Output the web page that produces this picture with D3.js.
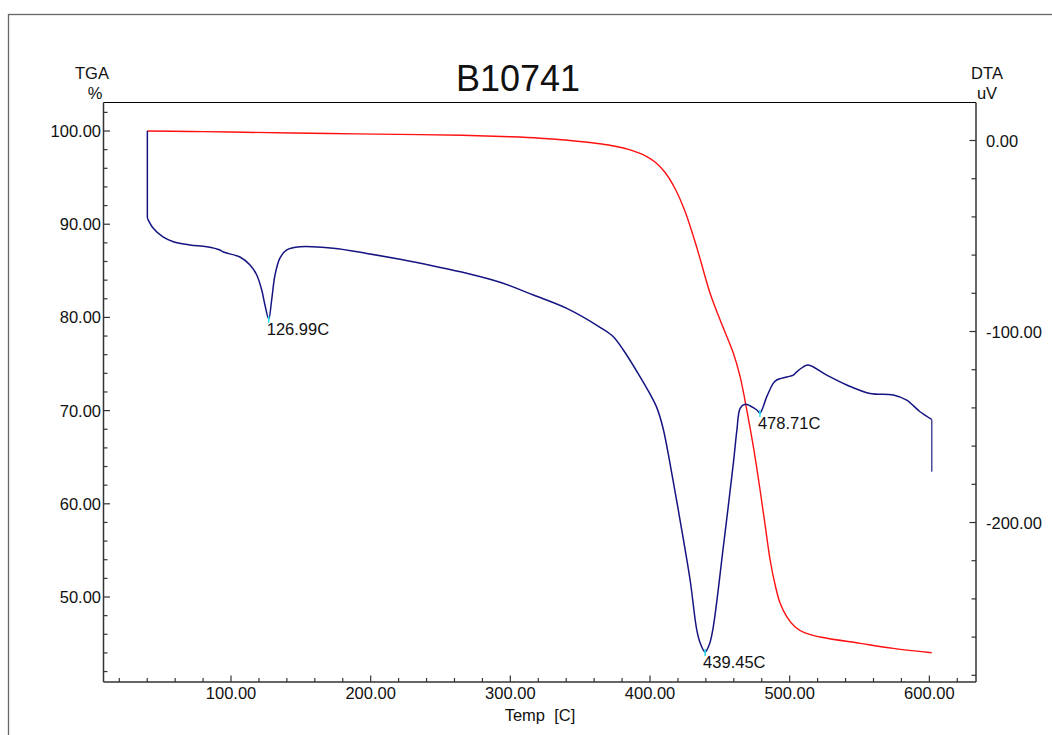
<!DOCTYPE html>
<html>
<head>
<meta charset="utf-8">
<script src="https://cdn.jsdelivr.net/npm/d3@7"></script>
<style>
  html, body { margin: 0; padding: 0; background: #fff; }
  svg { display: block; font-family: "Liberation Sans", Arial, sans-serif; }
</style>
</head>
<body>
<svg id="chart" width="1052" height="735"></svg>
<script>
// ---------- data ----------
const title = "B10741";
const xLabel = "Temp  [C]";
const leftLabel = ["TGA", "%"];
const rightLabel = ["DTA", "uV"];

const xTicks = [100, 200, 300, 400, 500, 600];
const tgaTicks = [50, 60, 70, 80, 90, 100];
const dtaTicks = [-200, -100, 0];

// TGA curve (red, left axis)
const tgaTemp = [39.9, 70.6, 100, 170.9, 235.3, 271.1, 300.5, 321.3, 339.2, 353.5, 364.2, 375.0, 385.7, 396.4, 403.6, 410.8, 417.9, 425.1, 432.3, 436.2, 443.0, 450.2, 459.7, 464.5, 469.3, 474.0, 478.8, 482.4, 486.0, 489.6, 493.1, 498.1, 503.9, 511.0, 521.8, 550.4, 574.2, 601.7];
const tgaValue = [100.0, 99.95, 99.89, 99.73, 99.61, 99.52, 99.38, 99.23, 99.03, 98.82, 98.63, 98.37, 97.98, 97.37, 96.67, 95.55, 93.83, 91.36, 88.09, 86.1, 82.59, 79.72, 76.15, 73.64, 70.06, 66.13, 61.48, 57.73, 53.97, 51.29, 49.36, 47.85, 46.78, 46.14, 45.71, 45.03, 44.49, 44.02];

// DTA curve (navy, right axis)
const dtaTemp = [40.1, 40.1, 44.2, 51.3, 58.7, 70.6, 82.6, 92.1, 94.5, 106.4, 113.6, 118.4, 122.0, 124.3, 126.99, 129.1, 131.5, 135.1, 139.9, 149.4, 173.2, 197.2, 221.0, 244.9, 268.8, 292.6, 316.5, 340.4, 364.2, 373.7, 380.9, 392.9, 400.0, 405.0, 409.3, 414.3, 421.5, 428.7, 433.5, 436.2, 439.45, 442.6, 445.3, 452.5, 459.7, 462.2, 464.6, 468.2, 471.8, 476.5, 478.71, 483.6, 488.3, 490.7, 498.1, 502.6, 505.0, 509.8, 513.4, 526.5, 540.9, 557.5, 574.2, 583.8, 593.3, 601.7, 601.7];
const dtaValue = [5.0, -40.6, -45.8, -50.5, -53.0, -54.7, -55.6, -57.3, -58.4, -61.0, -65.2, -70.4, -78.3, -86.1, -93.5, -83.5, -70.4, -61.5, -57.3, -55.6, -56.4, -59.1, -62.2, -65.7, -69.5, -74.2, -80.9, -87.9, -97.8, -102.7, -109.7, -123.7, -132.7, -140.1, -150.5, -169.0, -198.7, -230.1, -256.3, -263.6, -267.8, -263.6, -254.6, -212.7, -168.8, -151.6, -140.1, -138.1, -139.0, -141.1, -142.7, -134.1, -127.0, -125.4, -123.8, -122.8, -121.1, -118.5, -117.5, -122.8, -128.0, -132.4, -133.2, -135.9, -142.0, -146.0, -173.4];

// DTA peak annotations
const peakTemp = [126.99, 439.45, 478.71];
const peakDta = [-93.5, -267.8, -142.7];
const peakText = ["126.99C", "439.45C", "478.71C"];

// ---------- layout ----------
const svg = d3.select("#chart");
const L = 103.5, R = 976, T = 102.5, B = 682;

const x = d3.scaleLinear().domain([8.7, 633.4]).range([L, R]);
const yL = d3.scaleLinear().domain([40.88, 103.06]).range([B, T]);
const yR = d3.scaleLinear().domain([-283.5, 19.9]).range([B, T]);

// outer frame
svg.append("rect").attr("x", 8.5).attr("y", 14.5).attr("width", 1100).attr("height", 800)
  .attr("fill", "none").attr("stroke", "#666").attr("stroke-width", 1.3);

// plot box lines
const axisColor = "#333";
svg.append("line").attr("x1", L).attr("x2", R).attr("y1", T).attr("y2", T)
  .attr("stroke", "#000").attr("stroke-width", 1.2);
svg.append("line").attr("x1", L).attr("x2", L).attr("y1", T).attr("y2", B)
  .attr("stroke", axisColor).attr("stroke-width", 1.5);
svg.append("line").attr("x1", R).attr("x2", R).attr("y1", T).attr("y2", B)
  .attr("stroke", axisColor).attr("stroke-width", 1.5);
svg.append("line").attr("x1", L).attr("x2", R).attr("y1", B).attr("y2", B)
  .attr("stroke", axisColor).attr("stroke-width", 1.5);

const fs = 16.5;

// bottom axis ticks
const xMinor = d3.range(20, 633, 20);
svg.append("g").selectAll("line").data(xMinor).join("line")
  .attr("x1", d => x(d)).attr("x2", d => x(d))
  .attr("y1", B).attr("y2", d => (d % 100 === 0) ? B - 6.5 : B - 4)
  .attr("stroke", axisColor).attr("stroke-width", 1.2);
svg.append("g").selectAll("text").data(xTicks).join("text")
  .attr("x", d => x(d)).attr("y", 699).attr("text-anchor", "middle")
  .attr("font-size", fs).attr("fill", "#111").text(d => d.toFixed(2));

// left axis ticks
const yLMinor = d3.range(42, 103, 2);
svg.append("g").selectAll("line").data(yLMinor).join("line")
  .attr("x1", L).attr("x2", d => (d % 10 === 0) ? L + 6.5 : L + 4)
  .attr("y1", d => yL(d)).attr("y2", d => yL(d))
  .attr("stroke", axisColor).attr("stroke-width", 1.2);
svg.append("g").selectAll("text").data(tgaTicks).join("text")
  .attr("x", 101).attr("y", d => yL(d) + 6).attr("text-anchor", "end")
  .attr("font-size", fs).attr("fill", "#111").text(d => d.toFixed(2));

// right axis ticks
const yRMinor = d3.range(-280, 1, 20);
svg.append("g").selectAll("line").data(yRMinor).join("line")
  .attr("x1", R).attr("x2", d => (d % 100 === 0) ? R - 6.5 : R - 4.5)
  .attr("y1", d => yR(d)).attr("y2", d => yR(d))
  .attr("stroke", axisColor).attr("stroke-width", 1.2);
svg.append("g").selectAll("text").data(dtaTicks).join("text")
  .attr("x", 986).attr("y", d => yR(d) + 6).attr("text-anchor", "start")
  .attr("font-size", fs).attr("fill", "#111").text(d => d.toFixed(2));

// titles
svg.append("text").attr("x", 518).attr("y", 91).attr("text-anchor", "middle")
  .attr("font-size", 36).attr("fill", "#111").text(title);
svg.append("text").attr("x", 540).attr("y", 721).attr("text-anchor", "middle")
  .attr("font-size", fs).attr("fill", "#111").style("white-space", "pre").text(xLabel);
svg.append("text").attr("x", 92).attr("y", 79).attr("text-anchor", "middle")
  .attr("font-size", fs).attr("fill", "#111").text(leftLabel[0]);
svg.append("text").attr("x", 95).attr("y", 99).attr("text-anchor", "middle")
  .attr("font-size", fs).attr("fill", "#111").text(leftLabel[1]);
svg.append("text").attr("x", 987).attr("y", 79).attr("text-anchor", "middle")
  .attr("font-size", fs).attr("fill", "#111").text(rightLabel[0]);
svg.append("text").attr("x", 987).attr("y", 99).attr("text-anchor", "middle")
  .attr("font-size", fs).attr("fill", "#111").text(rightLabel[1]);

// curves
const tgaData = tgaTemp.map((t, i) => [t, tgaValue[i]]);
const dtaData = dtaTemp.map((t, i) => [t, dtaValue[i]]);
const n = dtaData.length;

const lineL = d3.line().x(d => x(d[0])).y(d => yL(d[1])).curve(d3.curveCatmullRom.alpha(0.5));
const lineR = d3.line().x(d => x(d[0])).y(d => yR(d[1])).curve(d3.curveCatmullRom.alpha(0.5));
const lineRLin = d3.line().x(d => x(d[0])).y(d => yR(d[1]));

svg.append("path").datum(tgaData).attr("d", lineL)
  .attr("fill", "none").attr("stroke", "#ff1010").attr("stroke-width", 1.4);

const blue = "#141482";
// vertical start jump, smooth body, vertical end drop
svg.append("path").datum(dtaData.slice(0, 2)).attr("d", lineRLin)
  .attr("fill", "none").attr("stroke", blue).attr("stroke-width", 1.5);
svg.append("path").datum(dtaData.slice(1, n - 1)).attr("d", lineR)
  .attr("fill", "none").attr("stroke", blue).attr("stroke-width", 1.5);
svg.append("path").datum(dtaData.slice(n - 2)).attr("d", lineRLin)
  .attr("fill", "none").attr("stroke", "#4a4a9a").attr("stroke-width", 1.5);

// peak markers & labels
peakTemp.forEach((t, i) => {
  const px = x(t), py = yR(peakDta[i]);
  svg.append("line").attr("x1", px).attr("x2", px).attr("y1", py - 3).attr("y2", py + 4)
    .attr("stroke", "#22e0f0").attr("stroke-width", 1.5);
  svg.append("text").attr("x", px - 2).attr("y", py + 16)
    .attr("font-size", fs).attr("fill", "#111").text(peakText[i]);
});
</script>
</body>
</html>
